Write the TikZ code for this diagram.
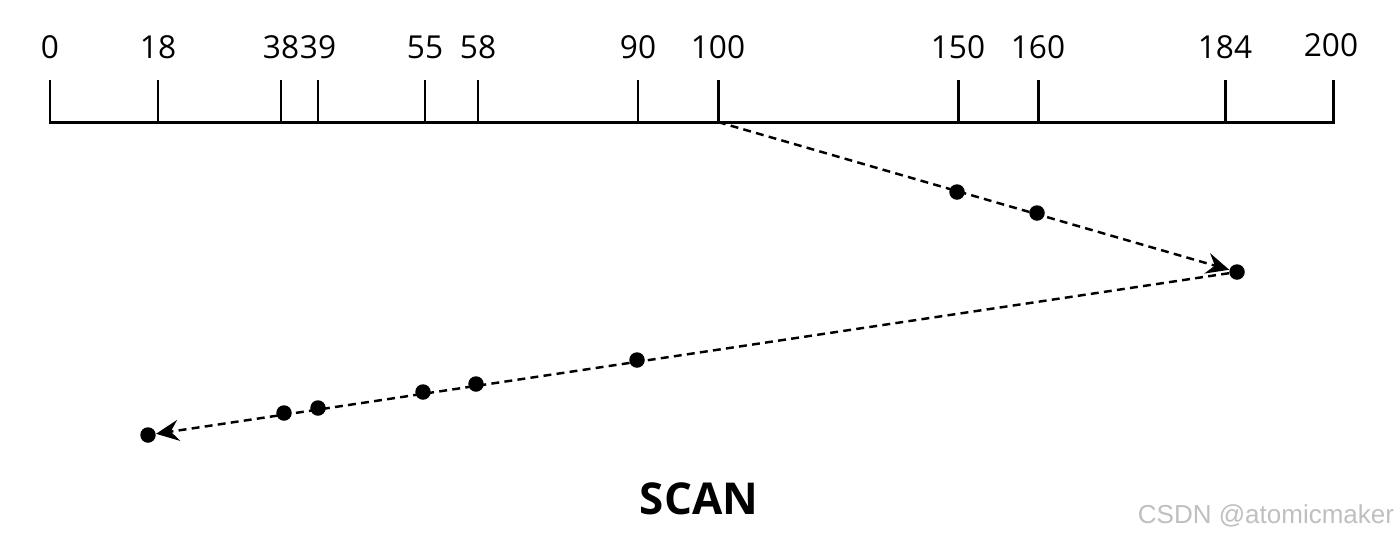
\documentclass[tikz,border=0pt]{standalone}
\usepackage{fontspec}
\setmainfont{Open Sans}
\newfontfamily\markfont{Liberation Sans}
\usetikzlibrary{arrows.meta}

\begin{document}
\begin{tikzpicture}[x=0.02cm,y=-0.02cm,
  tickmark/.style={line width=1.7pt},
  ticklabel/.style={font=\fontsize{18}{21}\selectfont},
  reqdot/.style={circle,fill=black,inner sep=0pt,minimum size=0.31cm},
  scanpath/.style={line width=1.4pt,dash pattern=on 4.5pt off 3pt,-{Stealth[length=13pt,width=12pt,inset=4.5pt]}}]

\useasboundingbox (0,0) rectangle (1397,539);

% track axis
\draw[tickmark] (50,80) -- (50,122) -- (1333,122) -- (1333,80);
\foreach \px/\lbl in {158/18,281/38,318/39,425/55,478/58,638/90,718/100,958/150,1038/160,1225/184}{
  \draw[tickmark] (\px,122) -- (\px,80);
  \node[ticklabel] (l\lbl) at (\px,47) {\lbl};
}
\node[ticklabel] (l0) at (50,47) {0};
\node[ticklabel] (l200) at (1331,45) {200};

% requests
\node[reqdot] (d150) at (957,192) {};
\node[reqdot] (d160) at (1037,213) {};
\node[reqdot] (d184) at (1237,272) {};
\node[reqdot] (d90) at (637,360) {};
\node[reqdot] (d58) at (476,384) {};
\node[reqdot] (d55) at (423,392) {};
\node[reqdot] (d39) at (318,408) {};
\node[reqdot] (d38) at (284,413) {};
\node[reqdot] (d18) at (148,435) {};

% head movement
\coordinate (head) at (718,122);
\draw[scanpath] (head) -- (d184);
\draw[scanpath] (d184) -- (d18);

\node[font=\bfseries\fontsize{25}{30}\selectfont] (title) at (699,499) {SCAN};
\node[text=gray!50,font=\markfont\fontsize{14.8}{17}\selectfont] (mark) at (1266,516) {CSDN @atomicmaker};
\end{tikzpicture}
\end{document}
